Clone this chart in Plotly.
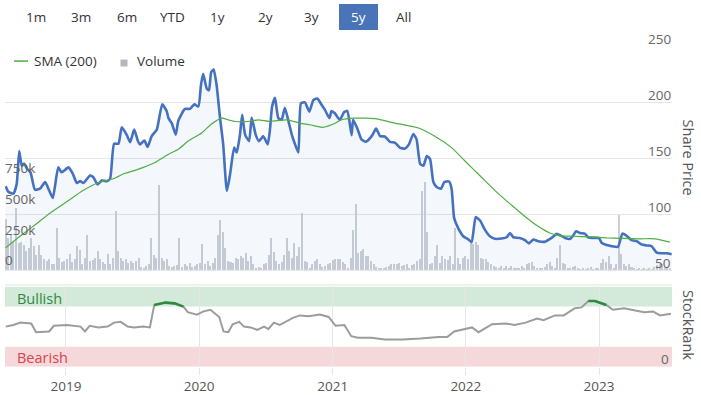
import plotly.graph_objects as go
import pandas as pd

START = "2018-07-20"

# ---- data ----
price_day = [0, 7, 21, 30, 37, 44, 50, 59, 68, 80, 94, 108, 119, 129, 144, 153, 172, 184, 195, 204,
             213, 231, 240, 252, 263, 277, 286, 297, 309, 318, 332, 341, 352, 363, 368, 380, 389, 400,
             414, 429, 441, 446, 455, 466, 473, 491, 505, 517, 528, 535, 541, 551, 557, 563, 570, 578,
             587, 596, 606, 615, 626, 633, 642, 648, 656, 667, 674, 685, 694, 706, 718, 724, 730, 738,
             747, 756, 765, 774, 784, 793, 802, 809, 820, 832, 843, 854, 866, 875, 887, 893, 902, 916,
             927, 936, 948, 952, 963, 975, 987, 1003, 1015, 1026, 1039, 1053, 1067, 1080, 1094, 1105,
             1117, 1126, 1136, 1145, 1154, 1163, 1172, 1181, 1193, 1202, 1215, 1222, 1229, 1240, 1254,
             1268, 1277, 1288, 1300, 1313, 1327, 1341, 1359, 1373, 1382, 1391, 1409, 1423, 1434, 1446,
             1459, 1478, 1496, 1510, 1521, 1533, 1546, 1555, 1563, 1574, 1587, 1596, 1615, 1626, 1633,
             1647, 1660, 1678, 1690, 1701, 1715, 1729, 1742, 1756, 1770, 1784, 1797, 1811, 1825]
price_val = [124.9, 120, 118.4, 127, 156.4, 143, 145.3, 140.4, 137.4, 122, 122.8, 128.7, 121.3, 114.6,
             141.8, 137.4, 141.8, 136, 127.8, 129.5, 127.8, 134.5, 133, 126.6, 130, 129.5, 131.6, 162.9,
             162.9, 177.5, 170.5, 164.3, 175.4, 164.6, 162.3, 165.8, 160, 169.6, 175.4, 198, 192, 185.7,
             181.3, 171, 183.3, 193.9, 193.9, 198, 196, 215, 225.1, 212, 210.5, 226.6, 229, 215, 187,
             162.3, 120.8, 136, 159.4, 155, 171, 188.6, 171, 165.2, 186.3, 171, 165.2, 169.6, 162.3, 175,
             196, 203.8, 185.7, 184.2, 195, 184.2, 171, 162.3, 155, 198.8, 199.7, 191.5, 201.8, 203.2,
             197.4, 193, 185.7, 192.1, 190, 184.2, 190.9, 192.1, 170.5, 184.2, 176.9, 166.7, 164.6,
             169.6, 176.3, 169.6, 169.3, 164.6, 163.7, 159.4, 158.5, 162.3, 171.6, 166.7, 144.7, 143.3,
             152, 149.1, 128.7, 124.3, 122.8, 128.7, 129.2, 122.8, 96.5, 87.7, 80.4, 77.5, 75.1, 97.4,
             94.4, 86.3, 80.4, 78.1, 78.4, 79.5, 83.3, 79.5, 78.9, 76.9, 74, 77.5, 76, 75.5, 78.9, 82.5,
             81, 78.9, 78, 81, 84.8, 83.3, 82.7, 79.5, 78.9, 78.9, 74.6, 72.5, 71.6, 71, 82.7, 81, 76.9,
             76, 73.1, 72.2, 71.6, 65.8, 65.2, 65.2, 64.3]

sma_day = [0, 39, 75, 121, 167, 213, 258, 295, 327, 360, 409, 446, 473, 500, 537, 564, 592, 610, 628,
           665, 692, 724, 770, 806, 834, 870, 898, 921, 952, 1017, 1053, 1102, 1131, 1176, 1222, 1258,
           1304, 1350, 1386, 1423, 1459, 1491, 1518, 1555, 1601, 1647, 1692, 1738, 1779, 1820]
sma_val = [70.2, 80.4, 89.2, 100.9, 111.1, 121.3, 128.7, 131.6, 136.5, 139.8, 146.2, 153.5, 157.9,
           165.2, 172.5, 180.4, 185.7, 184.2, 182.7, 182.7, 184.2, 182.7, 184.2, 181.3, 179.8, 177.5,
           180.4, 184.2, 185.7, 185.1, 182.2, 179, 176.9, 169.6, 159.4, 147.7, 133, 118.4, 108.2, 98,
           89.2, 83.3, 81, 80.4, 79.8, 78.9, 78.4, 78.1, 78.1, 75.1]

volume_k = [420, 260, 287, 234, 505, 220, 229, 207, 154, 181, 261, 194, 128, 207, 128, 88, 74, 88, 48, 48,
            340, 101, 69, 74, 88, 133, 69, 88, 194, 168, 48, 101, 287, 74, 80, 101, 154, 88, 69, 48,
            133, 48, 101, 479, 154, 101, 74, 88, 61, 74, 61, 74, 101,
            27, 21, 35, 48, 261, 128, 101, 690, 101, 74, 88, 35, 27, 35, 43, 266, 27, 48, 35, 61, 27, 35,
            48, 61, 213, 48, 74, 35, 61, 101, 287, 407, 314, 181, 74, 69, 61, 101, 88, 114, 101, 141, 74,
            114, 48, 21, 27, 21, 48, 61, 128, 266, 150,
            74, 48, 69, 128, 266, 154, 101, 220, 114, 186, 468, 74, 69, 21, 48, 74, 88, 48, 27, 35, 53, 61,
            80, 88, 93, 88, 69, 48, 21, 101, 327, 540, 141, 154, 176, 114, 114, 74, 48, 27, 21, 16, 21, 27,
            35, 48, 53, 48, 61, 35, 43, 48,
            21, 43, 53, 74, 88, 646, 718, 309, 48, 61, 114, 207, 61, 114, 88, 80, 114, 48, 340, 101, 48, 101,
            114, 88, 220, 213, 234, 207, 101, 88, 88, 69, 53, 35, 27, 21, 35, 21, 32, 16, 35, 16, 21, 16, 35,
            16, 48, 61, 69, 35, 21, 16, 16,
            27, 48, 69, 35, 16, 101, 207, 61, 48, 21, 16, 27, 35, 16, 11, 16, 11, 16, 27, 11, 16, 21, 61, 96,
            69, 114, 48, 21, 48, 452, 133, 48, 35, 48, 27, 16, 13, 21, 11, 16, 11, 16, 11, 27, 43, 48, 48,
            21, 16, 21]

rank_day = [0, 21, 40, 70, 83, 119, 132, 168, 205, 217, 230, 254, 279, 297, 315, 334, 352, 377, 395, 407,
            438, 463, 487, 499, 524, 542, 561, 585, 597, 610, 622, 640, 653, 671, 689, 708, 720, 735, 751,
            769, 787, 806, 830, 861, 885, 904, 928, 947, 965, 1002, 1039, 1088, 1137, 1186, 1210, 1229,
            1259, 1278, 1296, 1315, 1333, 1370, 1394, 1425, 1456, 1474, 1505, 1529, 1560, 1578, 1597,
            1615, 1646, 1664, 1695, 1725, 1750, 1774, 1793, 1823]
rank_val = [50, 52, 55, 54, 43, 44, 51, 52, 50, 44, 51, 49, 50, 55, 56, 50, 49, 50, 49, 77, 80, 79, 75,
            68, 65, 69, 71, 62, 44, 43, 53, 56, 50, 49, 46, 50, 47, 55, 52, 56, 61, 64, 63, 65, 62, 51,
            52, 38, 36, 36, 34, 34, 35, 37, 37, 44, 47, 49, 43, 48, 53, 54, 52, 55, 60, 58, 64, 64, 73,
            74, 82, 82, 77, 71, 73, 70, 68, 69, 64, 66]

buttons = ["1m", "3m", "6m", "YTD", "1y", "2y", "3y", "5y", "All"]
active_button = "5y"
price_ticks = [50, 100, 150, 200, 250]
volume_ticks = [0, 250000, 500000, 750000]
volume_tick_text = ["0", "250k", "500k", "750k"]
year_ticks = ["2019-01-01", "2020-01-01", "2021-01-01", "2022-01-01", "2023-01-01"]
year_text = ["2019", "2020", "2021", "2022", "2023"]
bull_level, bear_level = 75, 25

# ---- derived ----
start = pd.Timestamp(START)
price_dates = [start + pd.Timedelta(days=d) for d in price_day]
sma_dates = [start + pd.Timedelta(days=d) for d in sma_day]
rank_dates = [start + pd.Timedelta(days=d) for d in rank_day]
vol_dates = pd.date_range(START, periods=len(volume_k), freq="7D")
volume = [v * 1000 for v in volume_k]
rank_green = [v if v >= bull_level else None for v in rank_val]

W, H = 701, 395
def fx(px):
    return px / W
def fy(py):
    return 1 - py / H

FONT = "Open Sans, Noto Sans, sans-serif"
xdom = [fx(5), fx(672)]

fig = go.Figure()
fig.add_trace(go.Bar(x=vol_dates, y=volume, xaxis="x", yaxis="y", marker_color="#cdd0d6",
                     marker_line_width=0, width=5.5 * 86400000, name="Volume", showlegend=False))
fig.add_trace(go.Scatter(x=price_dates, y=price_val, xaxis="x", yaxis="y2", mode="lines",
                         line=dict(color="#4472c0", width=2.6, shape="spline", smoothing=0.5),
                         fill="tozeroy", fillcolor="rgba(68,114,192,0.06)", showlegend=False))
fig.add_trace(go.Scatter(x=sma_dates, y=sma_val, xaxis="x", yaxis="y2", mode="lines",
                         line=dict(color="#4fae45", width=1.2, shape="spline", smoothing=0.6),
                         name="SMA (200)", showlegend=False))
fig.add_trace(go.Scatter(x=rank_dates, y=rank_val, xaxis="x2", yaxis="y3", mode="lines",
                         line=dict(color="#9c9c9c", width=2), showlegend=False))
fig.add_trace(go.Scatter(x=rank_dates, y=rank_green, xaxis="x2", yaxis="y3", mode="lines",
                         line=dict(color="#2e8b3e", width=2.6), connectgaps=False, showlegend=False))

xr = ["2018-07-18", "2023-07-20"]
fig.update_layout(
    width=W, height=H, margin=dict(l=0, r=0, t=0, b=0),
    paper_bgcolor="white", plot_bgcolor="white",
    font=dict(family=FONT, size=13, color="#555"),
    bargap=0,
    xaxis=dict(domain=xdom, type="date", range=xr, anchor="y", showticklabels=False,
               showgrid=False, zeroline=False, showline=False, ticks=""),
    yaxis=dict(domain=[fy(274.5), fy(46.7)], range=[0, 1.82e6], side="left", anchor="x",
               showticklabels=False, showgrid=False, zeroline=False, ticks=""),
    yaxis2=dict(domain=[fy(274.5), fy(46.7)], range=[50, 250], side="right", overlaying="y",
                anchor="x", tickvals=price_ticks, showticklabels=False,
                showgrid=True, gridcolor="#e6e6e6", gridwidth=1, zeroline=False, ticks=""),
    xaxis2=dict(domain=xdom, type="date", range=xr, anchor="y3", matches="x",
                tickvals=year_ticks, ticktext=year_text, showgrid=True, gridcolor="#e6e6e6",
                ticks="outside", ticklen=7, tickcolor="#e6e6e6", zeroline=False, showline=False,
                tickfont=dict(size=13.5, color="#555")),
    yaxis3=dict(domain=[fy(372.3), fy(291)], range=[0, 100], side="right", anchor="x2",
                showticklabels=False, showgrid=False, zeroline=False, ticks=""),
)

shapes = [
    dict(type="rect", xref="paper", yref="y3", x0=xdom[0], x1=xdom[1], y0=bull_level, y1=100,
         fillcolor="#d3e9da", line_width=0, layer="between"),
    dict(type="rect", xref="paper", yref="y3", x0=xdom[0], x1=xdom[1], y0=0, y1=bear_level,
         fillcolor="#f5d8da", line_width=0, layer="between"),
    dict(type="line", xref="paper", yref="paper", x0=xdom[0], x1=xdom[1], y0=fy(289.3), y1=fy(289.3),
         line=dict(color="#e3e3e3", width=1)),
    dict(type="line", xref="paper", yref="paper", x0=xdom[0], x1=xdom[1], y0=fy(274.5), y1=fy(274.5),
         line=dict(color="#e3e3e3", width=1)),
    # legend marks
    dict(type="line", xref="paper", yref="paper", x0=fx(14), x1=fx(28), y0=fy(62), y1=fy(62),
         line=dict(color="#4fae45", width=1.5)),
    dict(type="rect", xref="paper", yref="paper", x0=fx(120.5), x1=fx(127.5), y0=fy(67.5), y1=fy(60.5),
         fillcolor="#b5b7bd", line_width=0),
]

annotations = []
btn_x = [35.7, 81, 126.7, 172.3, 218, 265, 311.7, 358.5, 403.5]
for label, bx in zip(buttons, btn_x):
    if label == active_button:
        shapes.append(dict(type="rect", xref="paper", yref="paper", x0=fx(339), x1=fx(378),
                           y0=fy(30.5), y1=fy(4), fillcolor="#4a74b8", line_width=0))
    annotations.append(dict(text=label, x=fx(bx), y=fy(17.5), xref="paper", yref="paper",
                            showarrow=False, xanchor="center", yanchor="middle",
                            font=dict(size=13.5, color="white" if label == active_button else "#333")))

# axis tick labels drawn as annotations tied to the axes
for v in price_ticks:
    annotations.append(dict(text=str(v), x=fx(673), y=v, xref="paper", yref="y2", showarrow=False,
                            xanchor="right", yanchor="middle", yshift=7,
                            font=dict(size=13.5, color="#666")))
for v, t in zip(volume_ticks, volume_tick_text):
    annotations.append(dict(text=t, x=fx(3), y=v, xref="paper", yref="y", showarrow=False,
                            xanchor="left", yanchor="middle", yshift=10,
                            font=dict(size=13.5, color="#666")))
annotations.append(dict(text="0", x=fx(671), y=0, xref="paper", yref="y3", showarrow=False,
                        xanchor="right", yanchor="middle", yshift=8,
                        font=dict(size=13.5, color="#666")))

annotations += [
    dict(text="SMA (200)", x=fx(32), y=fy(62), xref="paper", yref="paper", showarrow=False,
         xanchor="left", yanchor="middle", font=dict(size=13.5, color="#333")),
    dict(text="Volume", x=fx(135), y=fy(62), xref="paper", yref="paper", showarrow=False,
         xanchor="left", yanchor="middle", font=dict(size=13.5, color="#333")),
    dict(text="Bullish", x=fx(15), y=fy(303), xref="paper", yref="paper", showarrow=False,
         xanchor="left", yanchor="middle", font=dict(size=14.5, color="#2e8b3e")),
    dict(text="Bearish", x=fx(15), y=fy(363.5), xref="paper", yref="paper", showarrow=False,
         xanchor="left", yanchor="middle", font=dict(size=14.5, color="#d9434f")),
    dict(text="Share Price", x=fx(688), y=fy(160), xref="paper", yref="paper", showarrow=False,
         textangle=90, xanchor="center", yanchor="middle", font=dict(size=14.5, color="#555")),
    dict(text="StockRank", x=fx(688), y=fy(330), xref="paper", yref="paper", showarrow=False,
         textangle=90, xanchor="center", yanchor="middle", font=dict(size=14.5, color="#555")),
]

fig.update_layout(shapes=shapes, annotations=annotations)

fig.write_html("out.html", config={"displayModeBar": False},
               post_script="document.body.style.margin='0';")
